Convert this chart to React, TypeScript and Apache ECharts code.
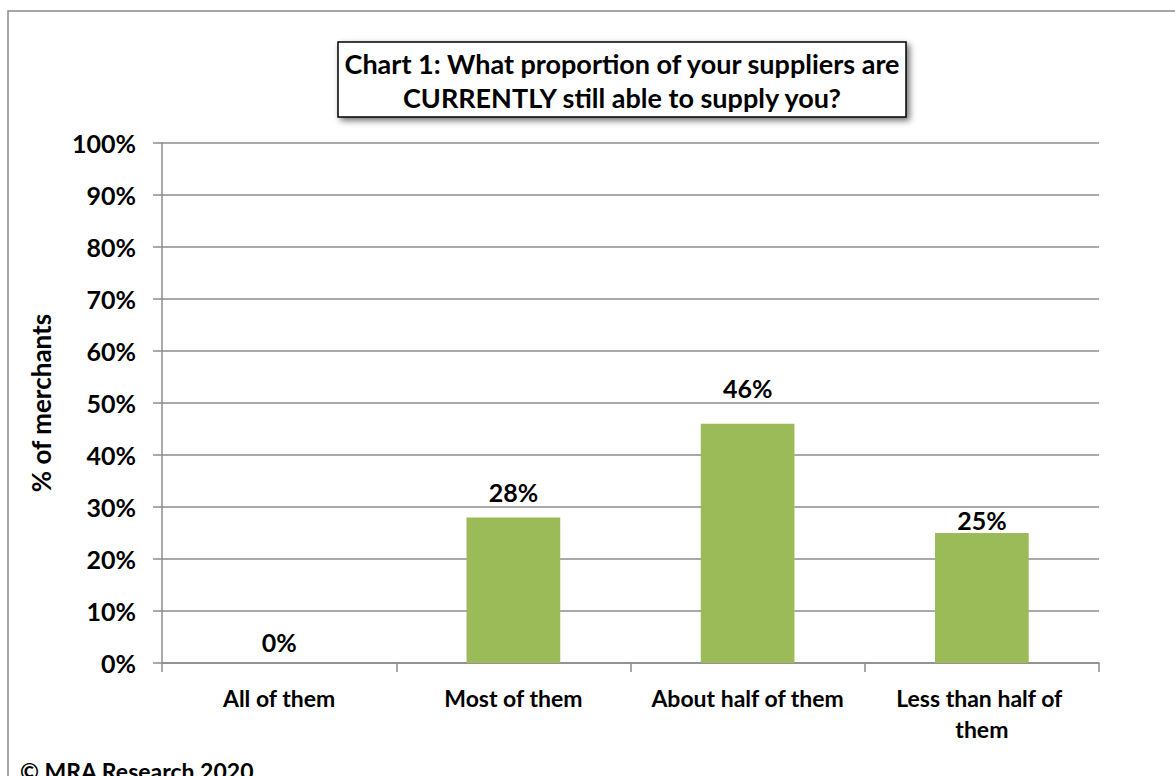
import React, { useEffect, useRef } from "react";
import * as echarts from "echarts";

const categories = ["All of them", "Most of them", "About half of them", "Less than half of them"];
const values = [0, 28, 46, 25];
const titleLines = ["Chart 1: What proportion of your suppliers are", "CURRENTLY still able to supply you?"];
const yAxisName = "% of merchants";
const footnote = "© MRA Research 2020";
// gap between each bar top and its value label, as placed in the reference
const labelGaps = [9, 13, 23, 1];

const FONT = "Lato, 'Open Sans', sans-serif";

export default function App() {
  const ref = useRef<HTMLDivElement>(null);
  useEffect(() => {
    if (!ref.current) return;
    const chart = echarts.init(ref.current, null, { renderer: "svg" });
    chart.setOption({
      animation: false,
      backgroundColor: "#ffffff",
      textStyle: { fontFamily: FONT },
      grid: { left: 162, right: 76, top: 143, bottom: 113 },
      xAxis: {
        type: "category",
        data: categories,
        axisLine: { lineStyle: { color: "#8c8c8c", width: 1.5 } },
        axisTick: { show: true, length: 9, lineStyle: { color: "#8c8c8c", width: 1.5 } },
        axisLabel: {
          color: "#000",
          fontWeight: "bold",
          fontSize: 23,
          fontFamily: FONT,
          margin: 19,
          width: 215,
          overflow: "break",
          lineHeight: 31,
          interval: 0,
        },
      },
      yAxis: {
        type: "value",
        min: 0,
        max: 100,
        interval: 10,
        name: yAxisName,
        nameLocation: "middle",
        nameRotate: 90,
        nameGap: 108,
        nameTextStyle: { color: "#000", fontWeight: "bold", fontSize: 26, fontFamily: FONT },
        axisLine: { show: true, lineStyle: { color: "#8c8c8c", width: 1.5 } },
        axisTick: { show: true, length: 9, lineStyle: { color: "#8c8c8c", width: 1.5 } },
        splitLine: { lineStyle: { color: "#8c8c8c", width: 1.5 } },
        axisLabel: {
          color: "#000",
          fontWeight: "bold",
          fontSize: 25,
          fontFamily: FONT,
          margin: 26,
          formatter: "{value}%",
        },
      },
      series: [
        {
          type: "bar",
          data: values.map((v, i) => ({ value: v, label: { distance: labelGaps[i] } })),
          barWidth: "40%",
          itemStyle: { color: "#9bbb59" },
          label: {
            show: true,
            position: "top",
            distance: 10,
            color: "#000",
            fontWeight: "bold",
            fontSize: 25,
            fontFamily: FONT,
            formatter: "{c}%",
          },
        },
      ],
      graphic: [
        {
          type: "rect",
          shape: { x: 8, y: 11, width: 1200, height: 800 },
          style: { fill: "none", stroke: "#8a8a8a", lineWidth: 1.5 },
          silent: true,
        },
        {
          type: "rect",
          shape: { x: 338, y: 42, width: 568, height: 75 },
          style: {
            fill: "#ffffff",
            stroke: "#000",
            lineWidth: 1.5,
            shadowBlur: 6,
            shadowOffsetX: 3,
            shadowOffsetY: 3,
            shadowColor: "rgba(0,0,0,0.55)",
          },
        },
        {
          type: "text",
          x: 622,
          y: 63,
          style: {
            text: titleLines[0],
            fill: "#000",
            font: `bold 27px ${FONT}`,
            textAlign: "center",
            textVerticalAlign: "middle",
          },
        },
        {
          type: "text",
          x: 622,
          y: 97,
          style: {
            text: titleLines[1],
            fill: "#000",
            font: `bold 27px ${FONT}`,
            textAlign: "center",
            textVerticalAlign: "middle",
          },
        },
        {
          type: "text",
          x: 20,
          y: 759,
          style: {
            text: footnote,
            fill: "#000",
            font: `bold 23px ${FONT}`,
            textAlign: "left",
            textVerticalAlign: "top",
          },
        },
      ],
    });
    return () => chart.dispose();
  }, []);
  return (
    <div
      ref={ref}
      style={{ position: "fixed", left: 0, top: 0, width: 1175, height: 776 }}
    />
  );
}
